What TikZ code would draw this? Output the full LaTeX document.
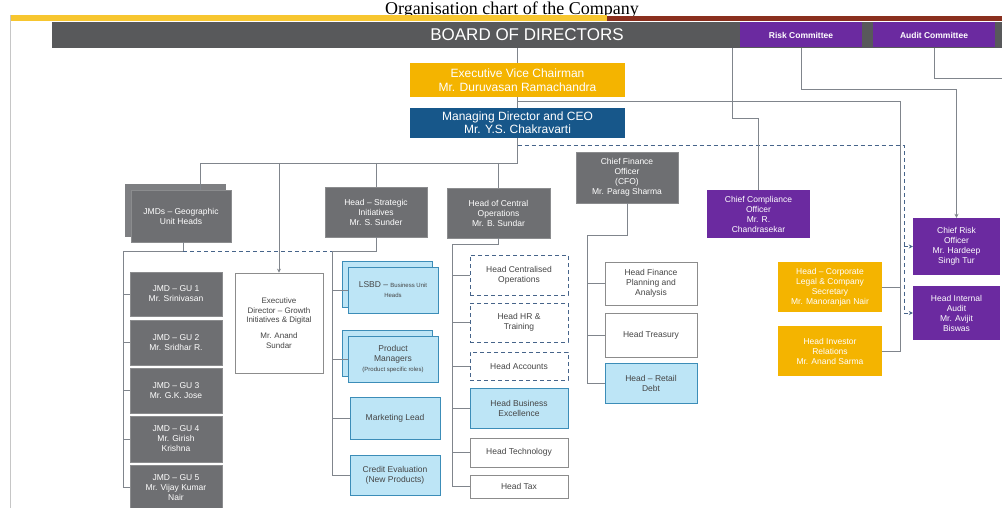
\documentclass[tikz,border=0pt]{standalone}
\usepackage{fontspec}
\setmainfont{Liberation Sans}
\newfontfamily\titlefont{Liberation Serif}
\usetikzlibrary{shadows,arrows.meta}
\definecolor{boardgray}{HTML}{58595B}
\definecolor{boxgray}{HTML}{6E6F72}
\definecolor{backgray}{HTML}{7E7F82}
\definecolor{purp}{HTML}{6B2AA0}
\definecolor{gold}{HTML}{F4B400}
\definecolor{mdblue}{HTML}{17578A}
\definecolor{lblue}{HTML}{BDE5F6}
\definecolor{bblue}{HTML}{3C8DB8}
\definecolor{dtext}{HTML}{454545}
\definecolor{wborder}{HTML}{8C8C8C}
\definecolor{dashc}{HTML}{46648A}
\definecolor{lgray}{HTML}{80858C}
\definecolor{stripey}{HTML}{F7C62F}
\definecolor{striper}{HTML}{8A2F1E}
\begin{document}
\begin{tikzpicture}[x=1pt,y=-1pt]
\tikzset{
 base/.style={rectangle, inner sep=1pt, align=center, font=\fontsize{8.5}{10}\selectfont},
 gbox/.style={base, fill=boxgray, draw=boxgray!80!white, text=white},
 pbox/.style={base, fill=purp, text=white},
 ybox/.style={base, fill=gold, text=white},
 bbox/.style={base, fill=lblue, draw=bblue, line width=0.8pt, text=dtext},
 wbox/.style={base, fill=white, draw=wborder, line width=0.7pt, text=dtext},
 dbox/.style={base, fill=white, draw=dashc, dash pattern=on 4pt off 3pt, line width=0.9pt, text=dtext},
 conn/.style={draw=lgray, line width=0.7pt},
 dconn/.style={draw=dashc, line width=1pt, dash pattern=on 4pt off 3pt},
 sz/.style 2 args={minimum width=#1, minimum height=#2},
 tip/.style={-{Stealth[length=4pt,width=4pt]}}
}
\useasboundingbox (0,0) rectangle (1002,508);
\fill[white] (0,0) rectangle (1002,508);

% title
\node[font=\titlefont\fontsize{18}{20}\selectfont, anchor=base, inner sep=0pt] (title) at (512,14.5) {Organisation chart of the Company};

% top stripes and left rule
\fill[stripey] (10,15) rectangle (607,21);
\fill[striper] (607,16) rectangle (1002,21);
\draw[gray!45, line width=0.8pt] (10,15) -- (10,508);

% board bar and committees
\node[rectangle, fill=boardgray, sz={950pt}{26pt}, inner sep=0pt, text=white,
      font=\fontsize{17}{18}\selectfont] (board) at (527,35) {BOARD OF DIRECTORS};
\node[pbox, sz={122pt}{25pt}, font=\bfseries\fontsize{8.5}{10}\selectfont] (risk) at (801,35) {Risk Committee};
\node[pbox, sz={122pt}{25pt}, font=\bfseries\fontsize{8.5}{10}\selectfont] (audit) at (934,35) {Audit Committee};

% top management
\node[ybox, sz={215pt}{34pt}, font=\fontsize{12}{13.5}\selectfont] (chair) at (517.5,80) {Executive Vice Chairman\\Mr. Duruvasan Ramachandra};
\node[base, fill=mdblue, text=white, sz={215pt}{30pt}, font=\fontsize{12}{13}\selectfont] (md) at (517.5,123) {Managing Director and CEO\\Mr. Y.S. Chakravarti};

% second level
\node[gbox, sz={100pt}{52pt}, copy shadow={shadow xshift=-6pt, shadow yshift=6pt, fill=backgray, draw=backgray}] (jmds) at (181,216) {JMDs – Geographic\\Unit Heads};
\node[gbox, sz={102pt}{50pt}] (hs) at (376,212) {Head – Strategic\\Initiatives\\Mr. S. Sunder};
\node[gbox, sz={103pt}{50pt}] (hc) at (498.5,213) {Head of Central\\Operations\\Mr. B. Sundar};
\node[gbox, sz={102pt}{51pt}] (cfo) at (627,177.5) {Chief Finance\\Officer\\(CFO)\\Mr. Parag Sharma};
\node[pbox, sz={103pt}{48pt}] (cco) at (758.5,214) {Chief Compliance\\Officer\\Mr. R.\\Chandrasekar};
\node[pbox, sz={87pt}{57pt}] (cro) at (956.5,246.5) {Chief Risk\\Officer\\Mr. Hardeep\\Singh Tur};
\node[pbox, sz={87pt}{54pt}] (ia) at (956.5,313) {Head Internal\\Audit\\Mr. Avijit\\Biswas};
\node[ybox, sz={104pt}{50pt}] (legal) at (830,287) {Head – Corporate\\Legal \& Company\\Secretary\\Mr. Manoranjan Nair};
\node[ybox, sz={104pt}{50pt}] (ir) at (830,351) {Head Investor\\Relations\\Mr. Anand Sarma};
\node[wbox, sz={88pt}{100pt}, font=\fontsize{8}{9.6}\selectfont] (ed) at (279,323) {Executive\\Director – Growth\\Initiatives \& Digital\\[6pt]Mr. Anand\\Sundar};

% JMD units
\node[gbox, sz={92pt}{44pt}] (gu1) at (176,294) {JMD – GU 1\\Mr. Srinivasan};
\node[gbox, sz={92pt}{45pt}] (gu2) at (176,342.5) {JMD – GU 2\\Mr. Sridhar R.};
\node[gbox, sz={92pt}{45pt}] (gu3) at (176,390.5) {JMD – GU 3\\Mr. G.K. Jose};
\node[gbox, sz={92pt}{46pt}] (gu4) at (176,439) {JMD – GU 4\\Mr. Girish\\Krishna};
\node[gbox, sz={92pt}{45pt}] (gu5) at (176,487.5) {JMD – GU 5\\Mr. Vijay Kumar\\Nair};

% strategic initiatives children
\node[bbox, sz={90pt}{46pt}, copy shadow={shadow xshift=-6pt, shadow yshift=6pt}] (lsbd) at (393,290) {LSBD – {\fontsize{6}{7.5}\selectfont Business Unit}\\{\fontsize{6}{7.5}\selectfont Heads}};
\node[bbox, sz={90pt}{46pt}, copy shadow={shadow xshift=-6pt, shadow yshift=6pt}] (pm) at (393,359) {Product\\Managers\\{\fontsize{6}{7.5}\selectfont (Product specific roles)}};
\node[bbox, sz={90pt}{42pt}] (ml) at (395,418) {Marketing Lead};
\node[bbox, sz={90pt}{40pt}] (ce) at (395,475) {Credit Evaluation\\(New Products)};

% central operations children
\node[dbox, sz={98pt}{40pt}] (co) at (519,275) {Head Centralised\\Operations};
\node[dbox, sz={98pt}{39pt}] (hr) at (519,322.5) {Head HR \&\\Training};
\node[dbox, sz={98pt}{28pt}] (acc) at (519,366) {Head Accounts};
\node[bbox, sz={98pt}{40pt}] (be) at (519,408) {Head Business\\Excellence};
\node[wbox, sz={98pt}{29pt}] (tech) at (519,452.5) {Head Technology};
\node[wbox, sz={98pt}{23pt}] (tax) at (519,486.5) {Head Tax};

% CFO children
\node[wbox, sz={92pt}{43pt}] (fpa) at (651,283.5) {Head Finance\\Planning and\\Analysis};
\node[wbox, sz={92pt}{44pt}] (tre) at (651,335) {Head Treasury};
\node[bbox, sz={92pt}{40pt}] (rd) at (651,383) {Head – Retail\\Debt};

% ---- connectors ----
\coordinate (t0) at (517.5,163);
\coordinate (lg0) at (517.5,101);
\coordinate (lg1) at (900,101);
\coordinate (d0) at (517.5,146);
\coordinate (d1) at (904,146);
\coordinate (r1) at (801,89);
\coordinate (a1) at (934,78);
\coordinate (a2) at (1002,78);
\coordinate (c1) at (732,118);
\coordinate (jm1) at (183,251);
\coordinate (jm2) at (123,251);
\coordinate (h2) at (332,251);
\coordinate (c2) at (452,244);
\coordinate (f2) at (587,235);

\draw[conn] (board.south -| chair.north) -- (chair.north);
\draw[conn] (chair.south) -- (md.north);
\draw[conn] (lg0) -- (lg1) |- (ir.east);
\draw[conn] (lg1 |- legal.east) -- (legal.east);

\draw[conn] (md.south) -- (t0) -| ([xshift=19pt]jmds.north);
\draw[conn] (t0 -| hs.north) -- (hs.north);
\draw[conn] (t0 -| hc.north) -- (hc.north);
\draw[conn, tip] (t0 -| ed.north) -- (ed.north);

\draw[dconn] (d0) -- (d1) -- (d1 |- ia.west);
\draw[dconn, tip] (d1 |- ia.west) -- (ia.west);
\draw[dconn, tip] (d1 |- cro.west) -- (cro.west);

\draw[conn, tip] (risk.south) -- (r1) -| (cro.north);
\draw[conn] (audit.south) -- (a1) -- (a2);
\draw[conn] (board.south -| c1) -- (c1) -| (cco.north);

\draw[conn] (jmds.south -| jm1) -- (jm1) -- (jm2) |- (gu5.west);
\foreach \n in {gu1,gu2,gu3,gu4} \draw[conn] (jm2 |- \n.west) -- (\n.west);
\draw[dconn] (jm1) -- (h2);

\draw[conn] (hs.south) -- (hs.south |- h2) -- (h2) |- (ce.west);
\foreach \n in {lsbd,pm,ml} \draw[conn] (h2 |- \n.west) -- (\n.west);

\draw[conn] (hc.south) -- (hc.south |- c2) -- (c2) |- (tax.west);
\foreach \n in {co,hr,acc,be,tech} \draw[conn] (c2 |- \n.west) -- (\n.west);

\draw[conn] (cfo.south) -- (cfo.south |- f2) -- (f2) |- (rd.west);
\foreach \n in {fpa,tre} \draw[conn] (f2 |- \n.west) -- (\n.west);
\end{tikzpicture}
\end{document}
